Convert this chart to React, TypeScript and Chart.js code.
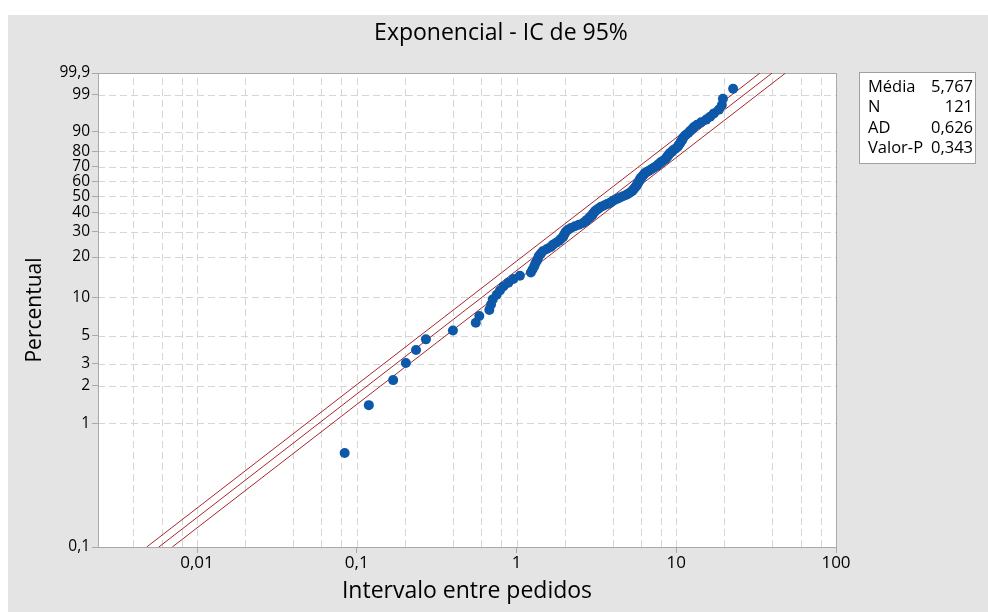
import { useEffect, useRef } from "react";
import { Chart, registerables } from "chart.js";

Chart.register(...registerables);

// Sorted observations: interval between orders
const intervals = [
  0.084, 0.119, 0.169, 0.203, 0.235, 0.271, 0.400, 0.556, 0.585, 0.676,
  0.693, 0.710, 0.752, 0.788, 0.827, 0.889, 0.955, 1.05, 1.23, 1.26,
  1.29, 1.31, 1.34, 1.36, 1.38, 1.42, 1.46, 1.55, 1.64, 1.69,
  1.77, 1.85, 1.90, 1.96, 1.98, 2.01, 2.04, 2.10, 2.19, 2.32,
  2.46, 2.61, 2.69, 2.76, 2.84, 2.89, 2.97, 3.01, 3.06, 3.10,
  3.19, 3.29, 3.38, 3.53, 3.69, 3.85, 3.96, 4.08, 4.26, 4.45,
  4.64, 4.85, 4.99, 5.14, 5.29, 5.36, 5.44, 5.52, 5.60, 5.68,
  5.72, 5.76, 5.85, 5.89, 5.93, 6.02, 6.10, 6.19, 6.28, 6.37,
  6.56, 6.75, 6.95, 7.15, 7.36, 7.58, 7.69, 7.91, 8.03, 8.26,
  8.50, 8.63, 8.75, 8.88, 9.01, 9.14, 9.41, 9.54, 9.82, 10.1,
  10.3, 10.4, 10.6, 10.7, 10.9, 11.0, 11.2, 11.5, 11.9, 12.2,
  12.6, 12.9, 13.5, 14.3, 15.4, 16.3, 17.2, 18.5, 19.3, 19.6, 22.7,
];

// Exponential fit (mean) and its 95% confidence bounds
const meanFit = 5.767;
const meanLower = 4.84;
const meanUpper = 7.0;

// Axis ticks
const percentTicks = [0.1, 1, 2, 3, 5, 10, 20, 30, 40, 50, 60, 70, 80, 90, 99, 99.9];
const xLabelTicks = [0.01, 0.1, 1, 10, 100];
const xGridTicks = [
  0.004, 0.006, 0.008, 0.01, 0.02, 0.04, 0.06, 0.08, 0.1, 0.2, 0.4, 0.6, 0.8,
  1, 2, 4, 6, 8, 10, 20, 40, 60, 80, 100,
];
const xMin = 0.0024;
const xMax = 100;

// Summary table
const statNames = ["Média", "N", "AD", "Valor-P"];
const statValues = ["5,767", "121", "0,626", "0,343"];

const titleText = "Exponencial - IC de 95%";
const xTitle = "Intervalo entre pedidos";
const yTitle = "Percentual";

const FONT = "'Open Sans', 'Noto Sans', sans-serif";
const GRAY_BG = "#e4e4e4";
const FRAME = "#a9a9a9";
const GRID = "#d6d6d6";
const POINT = "#0d58a8";
const LINE = "#a8262b";

// Exponential probability scale: log10 of -ln(1 - p)
const probToY = (pct: number) => Math.log10(-Math.log(1 - pct / 100));
const yMin = probToY(percentTicks[0]);
const yMax = probToY(percentTicks[percentTicks.length - 1]);

const fmt = (v: number) => String(v).replace(".", ",");

function fitLine(theta: number) {
  return [
    { x: theta * -Math.log(1 - percentTicks[0] / 100), y: yMin },
    { x: theta * -Math.log(1 - percentTicks[percentTicks.length - 1] / 100), y: yMax },
  ];
}

const backdrop = {
  id: "backdrop",
  beforeDraw(chart: any) {
    const { ctx, chartArea: a, scales } = chart;
    const W = chart.width;
    const H = chart.height;
    ctx.save();
    ctx.fillStyle = "#ffffff";
    ctx.fillRect(0, 0, W, H);
    ctx.fillStyle = GRAY_BG;
    ctx.fillRect(8, 15, W - 8, H - 15);
    ctx.fillStyle = "#ffffff";
    ctx.fillRect(a.left, a.top, a.right - a.left, a.bottom - a.top);

    ctx.strokeStyle = GRID;
    ctx.lineWidth = 1;
    ctx.setLineDash([7, 4]);
    for (const v of xGridTicks) {
      const px = Math.round(scales.x.getPixelForValue(v)) + 0.5;
      if (px <= a.left + 1 || px >= a.right - 1) continue;
      ctx.beginPath();
      ctx.moveTo(px, a.bottom);
      ctx.lineTo(px, a.top);
      ctx.stroke();
    }
    for (const p of percentTicks) {
      const py = Math.round(scales.y.getPixelForValue(probToY(p))) + 0.5;
      if (py <= a.top + 1 || py >= a.bottom - 1) continue;
      ctx.beginPath();
      ctx.moveTo(a.left, py);
      ctx.lineTo(a.right, py);
      ctx.stroke();
    }
    ctx.setLineDash([]);
    ctx.strokeStyle = FRAME;
    ctx.strokeRect(Math.round(a.left) + 0.5, Math.round(a.top) + 0.5,
      Math.round(a.right - a.left), Math.round(a.bottom - a.top));
    ctx.restore();
  },
  afterDraw(chart: any) {
    const { ctx } = chart;
    ctx.save();
    // title
    ctx.fillStyle = "#000000";
    ctx.font = `23px ${FONT}`;
    ctx.textAlign = "center";
    ctx.textBaseline = "alphabetic";
    ctx.fillText(titleText, 501, 40);

    // summary box
    const bx = 859.5, by = 72.5, bw = 116, bh = 91;
    ctx.fillStyle = "#ffffff";
    ctx.fillRect(bx, by, bw, bh);
    ctx.strokeStyle = "#a0a0a0";
    ctx.lineWidth = 1;
    ctx.strokeRect(bx, by, bw, bh);
    ctx.fillStyle = "#000000";
    ctx.font = `16.5px ${FONT}`;
    statNames.forEach((name, i) => {
      const baseline = 92 + i * 20.3;
      ctx.textAlign = "left";
      ctx.fillText(name, 868, baseline);
      ctx.textAlign = "right";
      ctx.fillText(statValues[i], 973, baseline);
    });
    ctx.restore();
  },
};

export default function App() {
  const canvasRef = useRef<HTMLCanvasElement | null>(null);

  useEffect(() => {
    document.body.style.margin = "0";
    const canvas = canvasRef.current;
    if (!canvas) return;
    const n = intervals.length;
    const points = intervals.map((v, i) => ({
      x: v,
      y: probToY(((i + 1 - 0.3) / (n + 0.4)) * 100),
    }));

    const lineStyle = {
      type: "line" as const,
      showLine: true,
      borderColor: LINE,
      borderWidth: 1,
      pointRadius: 0,
      pointHoverRadius: 0,
      fill: false,
      order: 1,
    };

    const chart = new Chart(canvas, {
      type: "scatter",
      data: {
        datasets: [
          { ...lineStyle, data: fitLine(meanLower) },
          { ...lineStyle, data: fitLine(meanFit) },
          { ...lineStyle, data: fitLine(meanUpper) },
          {
            data: points,
            pointRadius: 5,
            pointHoverRadius: 5,
            pointBackgroundColor: POINT,
            pointBorderWidth: 0,
            showLine: false,
            order: 0,
          },
        ] as any,
      },
      options: {
        animation: false,
        responsive: false,
        events: [],
        layout: { padding: { top: 73, right: 152, left: 0, bottom: 0 } },
        plugins: { legend: { display: false }, tooltip: { enabled: false } },
        scales: {
          x: {
            type: "logarithmic",
            bounds: "data",
            min: xMin,
            max: xMax,
            afterBuildTicks: (s: any) => {
              s.ticks = xGridTicks.map((v) => ({ value: v }));
            },
            afterFit: (s: any) => {
              s.height = 65;
            },
            ticks: {
              autoSkip: false,
              maxRotation: 0,
              padding: 0,
              color: "#000000",
              font: { family: FONT, size: 17 },
              callback: (v: any) => (xLabelTicks.includes(Number(v)) ? fmt(Number(v)) : ""),
            },
            grid: {
              display: true,
              drawOnChartArea: false,
              drawTicks: true,
              tickLength: 6,
              color: "transparent",
              tickColor: (c: any) =>
                c.tick && xLabelTicks.includes(c.tick.value) ? FRAME : "transparent",
            },
            border: { display: false },
            title: {
              display: true,
              text: xTitle,
              color: "#000000",
              font: { family: FONT, size: 23 },
              padding: { top: 0, bottom: 7 },
            },
          },
          y: {
            type: "linear",
            bounds: "data",
            min: yMin,
            max: yMax,
            afterBuildTicks: (s: any) => {
              s.ticks = percentTicks.map((p) => ({ value: probToY(p) }));
            },
            afterFit: (s: any) => {
              s.width = 98;
            },
            ticks: {
              autoSkip: false,
              padding: 2,
              color: "#000000",
              font: { family: FONT, size: 15.5 },
              callback: (_v: any, i: number) => fmt(percentTicks[i]),
            },
            grid: {
              display: true,
              drawOnChartArea: false,
              drawTicks: true,
              tickLength: 6,
              color: "transparent",
              tickColor: FRAME,
            },
            border: { display: false },
            title: {
              display: true,
              text: yTitle,
              color: "#000000",
              font: { family: FONT, size: 21 },
              padding: { top: 22, bottom: 0 },
            },
          },
        },
      },
      plugins: [backdrop],
    });
    return () => chart.destroy();
  }, []);

  return (
    <div style={{ width: 988, height: 612 }}>
      <canvas ref={canvasRef} width={988} height={612} style={{ display: "block" }} />
    </div>
  );
}
